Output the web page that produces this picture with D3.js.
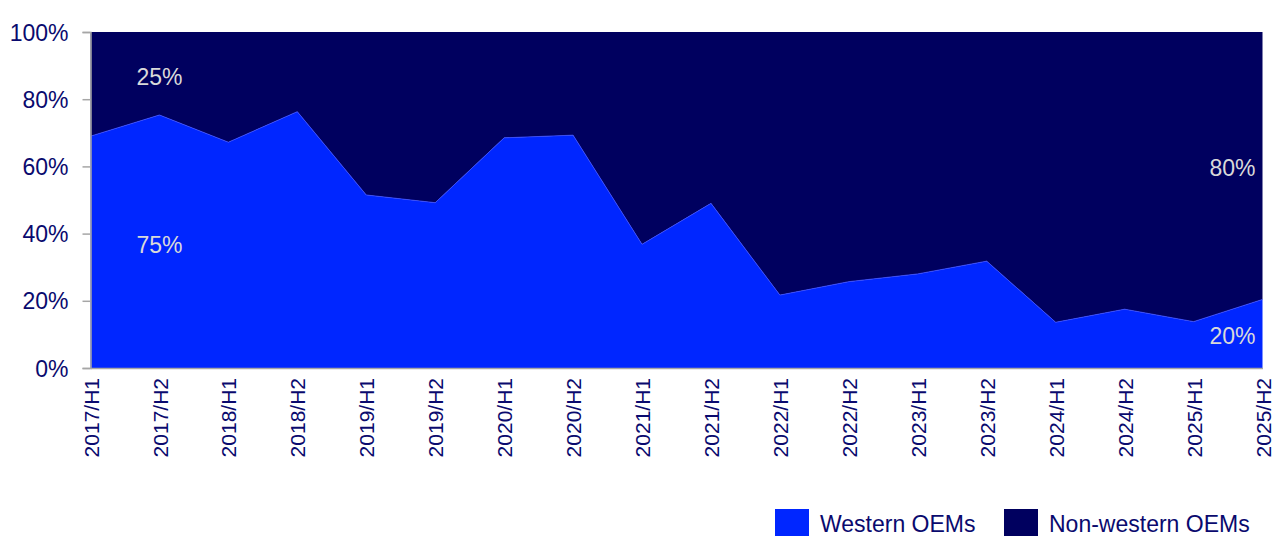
<!DOCTYPE html>
<html>
<head>
<meta charset="utf-8">
<script src="https://cdn.jsdelivr.net/npm/d3@7"></script>
<style>
  body { margin: 0; background: #fff; }
  svg { display: block; font-family: "Liberation Sans", Arial, sans-serif; }
</style>
</head>
<body>
<div id="chart"></div>
<script>
const categories = ["2017/H1", "2017/H2", "2018/H1", "2018/H2", "2019/H1", "2019/H2",
    "2020/H1", "2020/H2", "2021/H1", "2021/H2", "2022/H1", "2022/H2",
    "2023/H1", "2023/H2", "2024/H1", "2024/H2", "2025/H1", "2025/H2"]
// share of western OEMs, in %
const western = [69.0, 75.3, 67.2, 76.3, 51.5, 49.2, 68.5, 69.3, 36.8, 49.0,
    21.7, 25.7, 28.0, 31.8, 13.6, 17.5, 13.8, 20.4]
const nonWestern = western.map(v => 100 - v)
const seriesNames = ["Western OEMs", "Non-western OEMs"]
const seriesColors = ["#0026ff", "#00005f"]
const yTicks = [0, 20, 40, 60, 80, 100]
const annotations = ["25%", "75%", "80%", "20%"]

const width = 1276
const height = 536
const margin = { top: 32, right: 13.5, bottom: 168, left: 90.5 }
const textColor = "#0a0a6e"
const axisColor = "#a6a6a6"

const svg = d3.select("#chart")
    .append("svg")
    .attr("width", width)
    .attr("height", height)

var xScale = d3.scalePoint()
    .domain(categories)
    .range([margin.left, width - margin.right])

var yScale = d3.scaleLinear()
    .domain([0, 100])
    .range([height - margin.bottom, margin.top])

var rows = categories.map((c, i) => ({ cat: c, w: western[i], n: nonWestern[i] }))
var stack = d3.stack().keys(["w", "n"])(rows)

var area = d3.area()
    .x(d => xScale(d.data.cat))
    .y0(d => yScale(d[0]))
    .y1(d => yScale(d[1]))

// draw non-western first, then western on top
svg.selectAll(".layer")
    .data(stack.slice().reverse())
    .enter()
    .append("path")
    .attr("class", "layer")
    .attr("fill", d => d.key === "w" ? seriesColors[0] : seriesColors[1])
    .attr("d", area)

svg.append("path")
    .datum(rows)
    .attr("fill", "none")
    .attr("stroke", "#3a4cff")
    .attr("stroke-width", 0.8)
    .attr("d", d3.line().x(d => xScale(d.cat)).y(d => yScale(d.w)))

// y axis
var yAxis = d3.axisLeft(yScale)
    .tickValues(yTicks)
    .tickSize(8)
    .tickPadding(14)
    .tickFormat(d => d + "%")
var gy = svg.append("g")
    .attr("transform", "translate(" + margin.left + ",0)")
    .call(yAxis)
gy.select(".domain").attr("stroke", axisColor).attr("stroke-width", 1.5)
gy.selectAll(".tick line").attr("stroke", axisColor).attr("stroke-width", 1.5)
gy.selectAll(".tick text")
    .attr("fill", textColor)
    .style("font-size", "23px")
    .attr("dy", "0.35em")

// x axis
var xAxis = d3.axisBottom(xScale).tickSize(0).tickPadding(0)
var gx = svg.append("g")
    .attr("transform", "translate(0," + (height - margin.bottom) + ")")
    .call(xAxis)
gx.select(".domain").attr("stroke", axisColor).attr("stroke-width", 1.5)
gx.selectAll(".tick text")
    .attr("fill", textColor)
    .style("font-size", "21px")
    .attr("text-anchor", "end")
    .attr("transform", "translate(0,10) rotate(-90)")
    .attr("x", 0)
    .attr("y", 0)
    .attr("dy", "0.36em")

// annotations
var first = categories[1]
var last = categories[categories.length - 1]
var notes = [
    { t: annotations[0], x: xScale(first), y: yScale(86.7), anchor: "middle" },
    { t: annotations[1], x: xScale(first), y: yScale(36.6), anchor: "middle" },
    { t: annotations[2], x: xScale(last) - 7, y: yScale(59.5), anchor: "end" },
    { t: annotations[3], x: xScale(last) - 7, y: yScale(9.5), anchor: "end" }
]
svg.selectAll(".note")
    .data(notes)
    .enter()
    .append("text")
    .attr("class", "note")
    .attr("x", d => d.x)
    .attr("y", d => d.y)
    .attr("dy", "0.35em")
    .attr("text-anchor", d => d.anchor)
    .attr("fill", "#d9d9d9")
    .style("font-size", "23px")
    .text(d => d.t)

// legend
var legendX = [775, 1004]
var legend = svg.selectAll(".legend")
    .data(seriesNames)
    .enter()
    .append("g")
    .attr("class", "legend")
    .attr("transform", (d, i) => "translate(" + legendX[i] + ",509)")
legend.append("rect")
    .attr("width", 34)
    .attr("height", 27)
    .attr("fill", (d, i) => seriesColors[i])
legend.append("text")
    .attr("x", 45)
    .attr("y", 22.5)
    .attr("fill", textColor)
    .style("font-size", "23px")
    .text(d => d)
</script>
</body>
</html>
